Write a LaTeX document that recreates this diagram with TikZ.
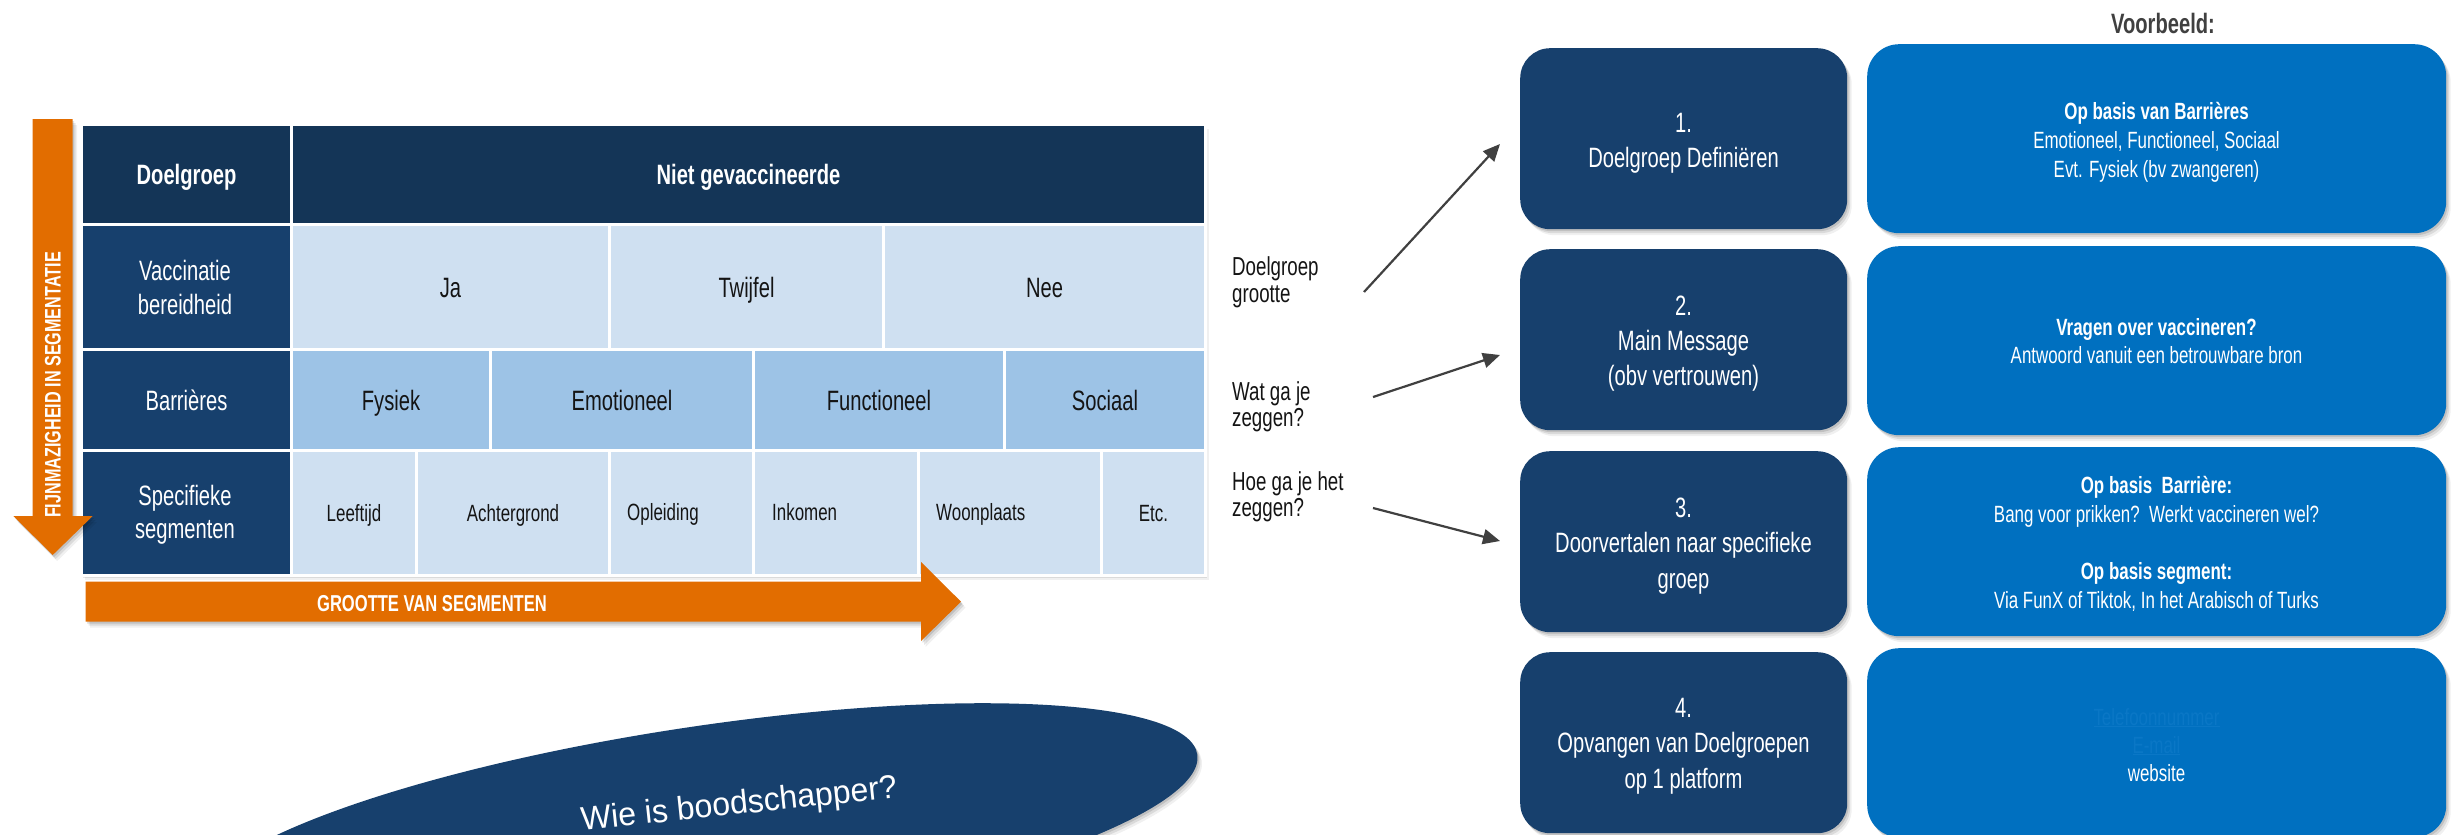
\documentclass[tikz,border=0pt]{standalone}
\usepackage{fontspec}
\setmainfont{Liberation Sans}[FakeStretch=0.72]
\usetikzlibrary{arrows.meta,shadows}
\definecolor{hdr}{HTML}{143557}
\definecolor{navy}{HTML}{17406D}
\definecolor{pale}{HTML}{CFE0F1}
\definecolor{midblue}{HTML}{9DC3E6}
\definecolor{brightblue}{HTML}{0070C0}
\definecolor{orng}{HTML}{E26D00}
\definecolor{arrowgray}{HTML}{404040}
\definecolor{linkblue}{HTML}{0A77C6}
\definecolor{txt}{HTML}{141414}
\newcommand\tlines[6]{%
  \foreach \ln [count=\k from 0] in {#6} {%
    \node[anchor=base, inner sep=0pt, #5, name=#1\k] at (#2, {#3+\k*#4}) {\ln};}}
\begin{document}
\begin{tikzpicture}[x=1pt,y=-1pt,
  softshadow/.style={
    general shadow={shadow xshift=1.5pt,shadow yshift=-2pt,fill=black,opacity=.12},
    general shadow={shadow xshift=3pt,shadow yshift=-4pt,fill=black,opacity=.09},
    general shadow={shadow xshift=4.5pt,shadow yshift=-6pt,fill=black,opacity=.06}},
  cell/.style={draw=white, line width=3pt, inner sep=0pt, anchor=north west,
    text height=20pt, text depth=0pt, font=\fontsize{28}{34}\selectfont},
  hcell/.style={cell, fill=hdr, text=white, font=\fontsize{28}{34}\selectfont\bfseries},
  lcell/.style={cell, fill=navy, text=white},
  pcell/.style={cell, fill=pale, text=txt},
  mcell/.style={cell, fill=midblue, text=txt},
  scell/.style={pcell, font=\fontsize{23.5}{28}\selectfont, text height=17pt},
  smalltxt/.style={font=\fontsize{23.5}{28}\selectfont, text=txt},
  whitebig/.style={font=\fontsize{28}{34}\selectfont, text=white},
  whitesmall/.style={font=\fontsize{23.5}{28}\selectfont, text=white},
  labeltxt/.style={anchor=base west, font=\fontsize{26}{27}\selectfont, text=txt},
  darkbox/.style={softshadow, fill=navy, rounded corners=30pt, minimum width=327pt,
    minimum height=181pt, anchor=north west, inner sep=0pt},
  lightbox/.style={softshadow, fill=brightblue, rounded corners=32pt, minimum width=579pt,
    minimum height=189pt, anchor=north west, inner sep=0pt},
  conn/.style={draw=arrowgray, line width=2.2pt, -{Triangle[length=17pt,width=15pt]}}
]
\useasboundingbox (0,0) rectangle (2458,835);
\clip (0,0) rectangle (2458,835);

% ---------- table ----------
\node[softshadow, fill=white, anchor=north west, inner sep=0pt,
      minimum width=1124pt, minimum height=451pt] (tbl) at (80,123) {};
\node[hcell, minimum width=210pt, minimum height=100pt] (c00) at (80,123) {Doelgroep};
\node[hcell, minimum width=914pt, minimum height=100pt] (c01) at (290,123) {Niet gevaccineerde};

\node[lcell, minimum width=210pt, minimum height=125pt] (c10) at (80,223) {};
\node[pcell, minimum width=318pt, minimum height=125pt] (c11) at (290,223) {Ja};
\node[pcell, minimum width=274pt, minimum height=125pt] (c12) at (608,223) {Twijfel};
\node[pcell, minimum width=322pt, minimum height=125pt] (c13) at (882,223) {Nee};

\node[lcell, minimum width=210pt, minimum height=101pt] (c20) at (80,348) {Barrières};
\node[mcell, minimum width=199pt, minimum height=101pt] (c21) at (290,348) {Fysiek};
\node[mcell, minimum width=263pt, minimum height=101pt] (c22) at (489,348) {Emotioneel};
\node[mcell, minimum width=251pt, minimum height=101pt] (c23) at (752,348) {Functioneel};
\node[mcell, minimum width=201pt, minimum height=101pt] (c24) at (1003,348) {Sociaal};

\node[lcell, minimum width=210pt, minimum height=125pt] (c30) at (80,449) {};
\node[scell, minimum width=125pt, minimum height=125pt] (c31) at (290,449) {Leeftijd};
\node[scell, minimum width=193pt, minimum height=125pt] (c32) at (415,449) {Achtergrond};
\node[scell, minimum width=144pt, minimum height=125pt] (c33) at (608,449) {};
\node[scell, minimum width=165pt, minimum height=125pt] (c34) at (752,449) {};
\node[scell, minimum width=183pt, minimum height=125pt] (c35) at (917,449) {};
\node[scell, minimum width=104pt, minimum height=125pt] (c36) at (1100,449) {Etc.};

\tlines{vb}{185}{280}{34}{whitebig}{Vaccinatie,bereidheid}
\tlines{sg}{185}{505}{33}{whitebig}{Specifieke,segmenten}
\node[smalltxt, anchor=base west, inner sep=0pt] (t33) at (627,520) {Opleiding};
\node[smalltxt, anchor=base west, inner sep=0pt] (t34) at (772,520) {Inkomen};
\node[smalltxt, anchor=base west, inner sep=0pt] (t35) at (936,520) {Woonplaats};

% ---------- orange arrows ----------
\fill[orng, softshadow] (32.7,119) -- (72.7,119) -- (72.7,516) -- (92.7,516) -- (52.7,555)
   -- (13.3,516) -- (32.7,516) -- cycle;
\node[rotate=90, font=\fontsize{22.5}{22}\selectfont\bfseries, text=white, inner sep=0pt,
      text height=16pt, text depth=0pt] (vt) at (52.7,385) {FIJNMAZIGHEID IN SEGMENTATIE};
\fill[orng, softshadow] (85.6,581.7) -- (921,581.7) -- (921,562) -- (961,601.7) -- (921,641)
   -- (921,621.7) -- (85.6,621.7) -- cycle;
\node[font=\fontsize{23}{23}\selectfont\bfseries, text=white, inner sep=0pt,
      text height=16.5pt, text depth=0pt] (ht) at (432,603) {GROOTTE VAN SEGMENTEN};

% ---------- ellipse ----------
\fill[navy, softshadow, rotate around={8.6:(698,830)}] (698,830) ellipse [x radius=505pt, y radius=103pt];
\node[rotate=6, anchor=base, inner sep=0pt, text=white, font=\fontsize{33}{33}\selectfont]
   (who) at (740,814) {\scalebox{1.35}[1]{Wie is boodschapper?}};

% ---------- middle labels and arrows ----------
\tlines{la}{1232}{275}{27}{labeltxt}{Doelgroep,grootte}
\tlines{lb}{1232}{400}{26}{labeltxt}{Wat ga je,zeggen?}
\tlines{lc}{1232}{490}{26}{labeltxt}{Hoe ga je het,zeggen?}
\coordinate (a1s) at (1364,292); \coordinate (a1e) at (1500,144);
\coordinate (a2s) at (1373,397); \coordinate (a2e) at (1500,355);
\coordinate (a3s) at (1373,508); \coordinate (a3e) at (1500,541);
\draw[conn] (a1s) -- (a1e);
\draw[conn] (a2s) -- (a2e);
\draw[conn] (a3s) -- (a3e);

% ---------- right boxes ----------
\node[anchor=base, inner sep=0pt, font=\fontsize{28}{34}\selectfont\bfseries, text=arrowgray]
   (vbd) at (2163,33) {Voorbeeld:};
\node[darkbox] (d1) at (1520,48) {};
\node[darkbox] (d2) at (1520,249) {};
\node[darkbox] (d3) at (1520,451) {};
\node[darkbox] (d4) at (1520,652) {};
\node[lightbox] (l1) at (1867,44) {};
\node[lightbox] (l2) at (1867,246) {};
\node[lightbox] (l3) at (1867,447) {};
\node[lightbox] (l4) at (1867,648) {};

\tlines{d1t}{1683.5}{132}{35}{whitebig}{1.,Doelgroep Definiëren}
\tlines{d2t}{1683.5}{315}{35}{whitebig}{2.,Main Message,(obv vertrouwen)}
\tlines{d3t}{1683.5}{517}{35.5}{whitebig}{3.,Doorvertalen naar specifieke,groep}
\tlines{d4t}{1683.5}{717}{35.5}{whitebig}{4.,Opvangen van Doelgroepen,op 1 platform}

\tlines{l1t}{2156.5}{119}{29}{whitesmall}{{\textbf{Op basis van Barrières}},{Emotioneel, Functioneel, Sociaal},{Evt. Fysiek (bv zwangeren)}}
\tlines{l2t}{2156.5}{335}{28}{whitesmall}{{\textbf{Vragen over vaccineren?}},{Antwoord vanuit een betrouwbare bron}}
\tlines{l3a}{2156.5}{493}{29}{whitesmall}{{\textbf{Op basis\ \ Barrière:}},{Bang voor prikken?\ \ Werkt vaccineren wel?}}
\tlines{l3b}{2156.5}{579}{29}{whitesmall}{{\textbf{Op basis segment:}},{Via FunX of Tiktok, In het Arabisch of Turks}}
\tlines{l4t}{2156.5}{725}{28}{whitesmall}{{\textcolor{linkblue}{\underline{Telefoonnummer}}},{\textcolor{linkblue}{\underline{E-mail}}},website}
\end{tikzpicture}
\end{document}
